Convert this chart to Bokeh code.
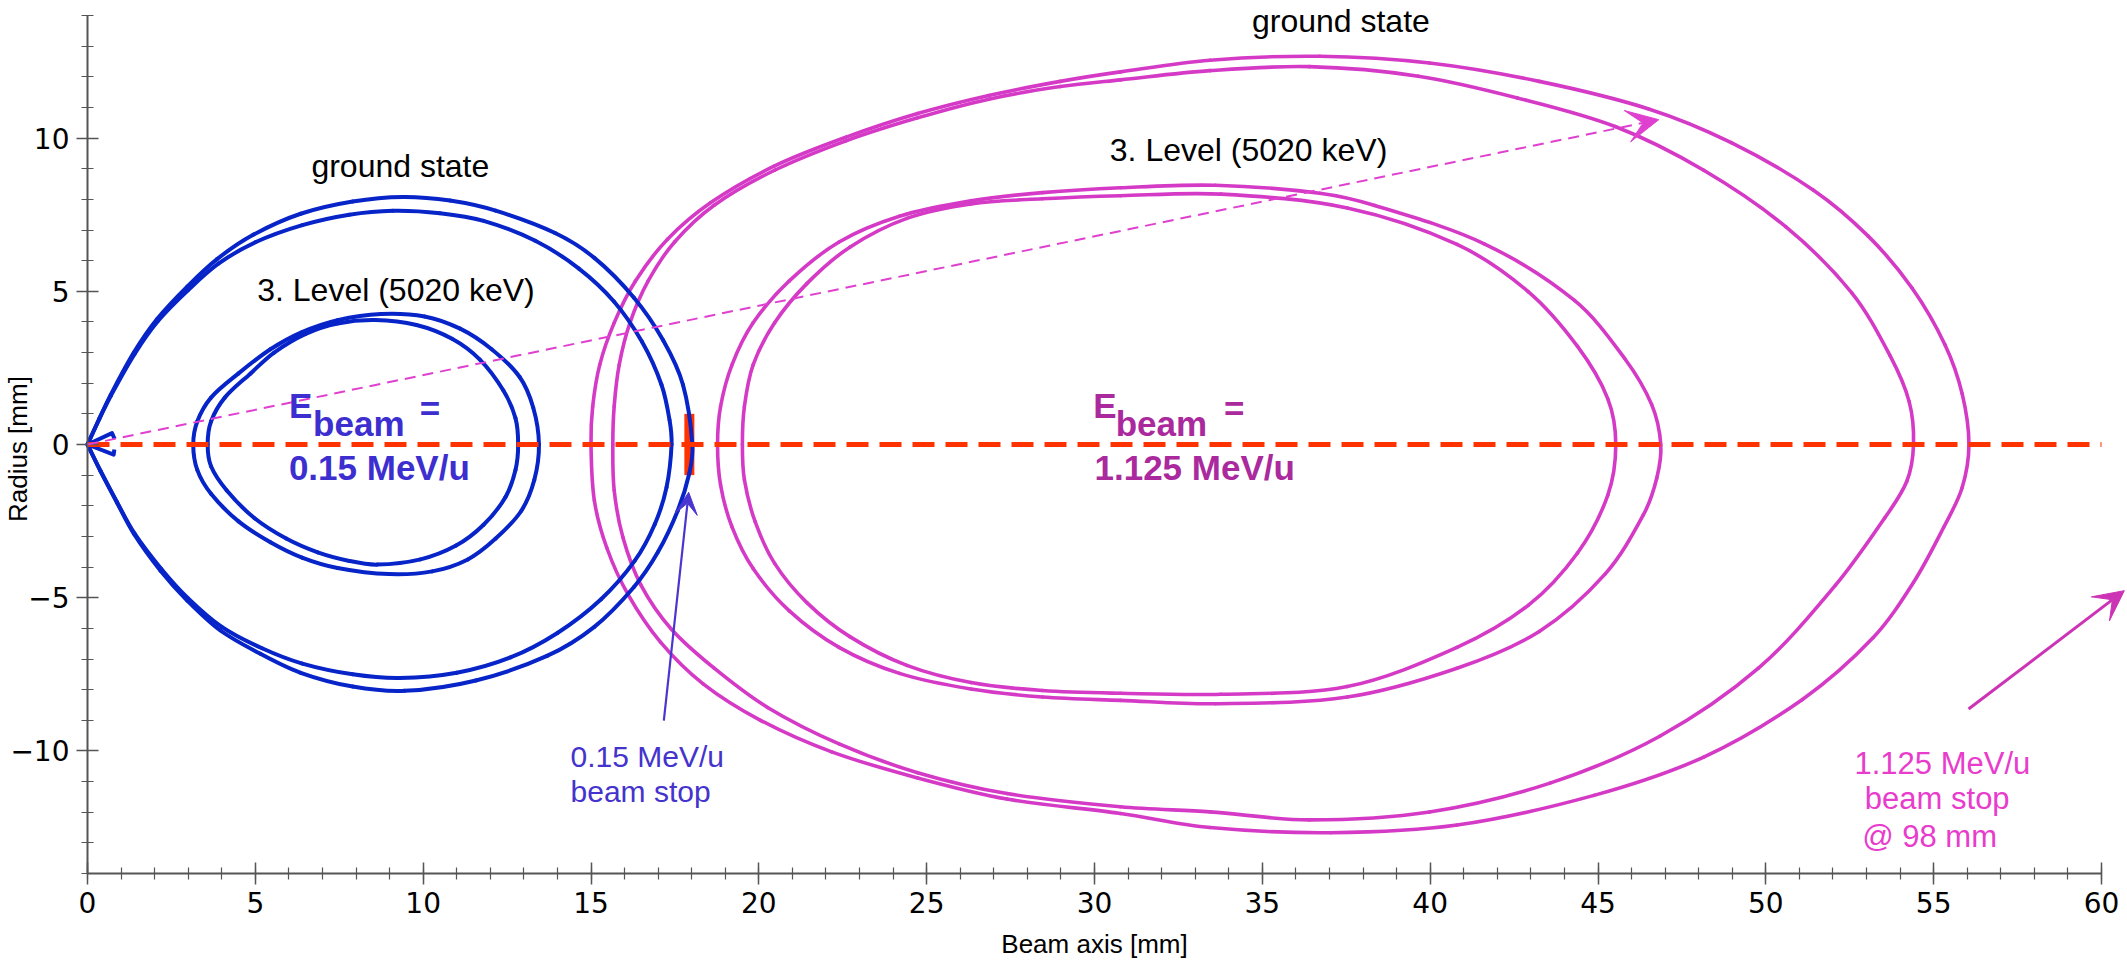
from math import pi, hypot
from bokeh.plotting import figure
from bokeh.models import Range1d, FixedTicker, Label, Arrow, VeeHead, ColumnDataSource
from bokeh.embed import file_html
from bokeh.resources import INLINE

# ---------------- data ----------------
x_ticks = [0, 5, 10, 15, 20, 25, 30, 35, 40, 45, 50, 55, 60]
y_ticks = [-10, -5, 0, 5, 10]
x_minor = list(range(0, 61))
y_minor = list(range(-14, 15))
y_tick_labels = {-10: "\u221210", -5: "\u22125"}
x_axis_span = (0, 60)
y_axis_span = (-14, 14)

# 0.15 MeV/u, ground state (two trajectories)
b_gs1_top_x = [0, 0.35, 0.69, 1.38, 2.08, 2.97, 3.86, 4.95, 6.35, 7.9, 9.4, 10.8, 12.16, 13.93, 15.1, 16.28, 17.15, 17.74, 18.02]
b_gs1_top_y = [0, 0.84, 1.62, 3.0, 4.1, 5.15, 6.05, 6.85, 7.53, 7.93, 8.08, 7.96, 7.63, 6.9, 6.09, 4.79, 3.4, 1.95, 0]
b_gs1_bot_x = [0, 0.39, 0.88, 1.38, 2.17, 2.97, 3.96, 5.15, 6.35, 7.9, 9.45, 11.57, 13.69, 15.1, 16.28, 16.99, 17.58, 17.93, 18.02]
b_gs1_bot_y = [0, -0.88, -1.9, -2.91, -4.11, -5.09, -6.07, -6.83, -7.45, -7.9, -8.04, -7.7, -6.9, -5.95, -4.65, -3.52, -2.17, -0.94, 0]
b_gs2_top_x = [0, 0.35, 0.7, 1.4, 2.1, 3.0, 3.9, 5.0, 6.4, 7.8, 9.1, 10.5, 11.8, 13.34, 14.63, 15.69, 16.52, 17.1, 17.34, 17.4]
b_gs2_top_y = [0, 0.83, 1.6, 2.95, 4.03, 5.04, 5.9, 6.6, 7.16, 7.5, 7.63, 7.55, 7.3, 6.65, 5.75, 4.66, 3.35, 1.95, 0.8, 0]
b_gs2_bot_x = [0, 0.39, 0.88, 1.4, 2.2, 3.0, 4.0, 5.2, 6.4, 7.9, 9.3, 11.0, 12.6, 14.0, 15.3, 16.3, 16.9, 17.25, 17.4]
b_gs2_bot_y = [0, -0.86, -1.88, -2.9, -4.06, -5.02, -5.95, -6.65, -7.15, -7.5, -7.62, -7.45, -6.95, -6.15, -5.05, -3.8, -2.6, -1.4, 0]

# 0.15 MeV/u, 3. Level (5020 keV)
b_l3a_top_x = [3.15, 3.27, 3.68, 4.5, 5.45, 6.39, 7.45, 8.74, 10.04, 11.1, 12.04, 12.87, 13.28, 13.45]
b_l3a_top_y = [0, 0.75, 1.53, 2.32, 3.11, 3.67, 4.06, 4.26, 4.18, 3.78, 3.11, 2.21, 1.2, 0]
b_l3a_bot_x = [3.15, 3.27, 3.68, 4.5, 5.45, 6.39, 7.45, 8.98, 10.27, 11.33, 12.16, 12.92, 13.31, 13.45]
b_l3a_bot_y = [0, -0.83, -1.61, -2.51, -3.19, -3.69, -4.03, -4.23, -4.14, -3.75, -3.07, -2.17, -1.16, 0]
b_l3b_top_x = [3.58, 3.68, 4.09, 4.86, 5.56, 6.5, 7.45, 8.57, 9.8, 10.86, 11.69, 12.39, 12.75, 12.83]
b_l3b_top_y = [0, 0.75, 1.53, 2.32, 3.0, 3.61, 3.95, 4.06, 3.9, 3.45, 2.77, 1.76, 0.86, 0]
b_l3b_bot_x = [3.58, 3.68, 4.15, 4.97, 5.92, 6.86, 7.8, 8.63, 9.92, 10.98, 11.8, 12.45, 12.75, 12.83]
b_l3b_bot_y = [0, -0.71, -1.5, -2.4, -3.07, -3.52, -3.8, -3.92, -3.75, -3.3, -2.62, -1.72, -0.83, 0]

# 1.125 MeV/u, ground state
m_gs1_top_x = [15.0, 15.05, 15.26, 15.69, 16.32, 17.28, 18.56, 20.47, 22.6, 24.73, 26.85, 28.98, 30.77, 33.44, 36.71, 39.98, 43.25, 46.51, 48.97, 51.42, 53.05, 54.36, 55.34, 55.85, 56.05]
m_gs1_top_y = [0, 1.24, 2.6, 3.97, 5.33, 6.7, 7.89, 9.09, 10.03, 10.8, 11.39, 11.85, 12.16, 12.54, 12.67, 12.45, 11.85, 10.95, 9.85, 8.3, 6.8, 5.1, 3.25, 1.65, 0]
m_gs1_bot_x = [15.0, 15.1, 15.47, 16.11, 17.07, 18.34, 20.05, 22.17, 24.73, 27.39, 30.77, 33.44, 37.04, 40.8, 44.88, 48.15, 51.09, 53.2, 54.4, 55.3, 55.85, 56.05]
m_gs1_bot_y = [0, -1.83, -3.37, -4.91, -6.45, -7.81, -9.0, -10.03, -10.88, -11.57, -12.04, -12.5, -12.67, -12.42, -11.45, -10.2, -8.32, -6.3, -4.5, -2.7, -1.4, 0]
m_gs2_top_x = [15.65, 15.69, 15.84, 16.16, 16.7, 17.49, 18.67, 20.47, 22.6, 24.73, 26.85, 28.98, 30.77, 33.44, 36.4, 39.65, 42.6, 45.53, 48.15, 50.6, 52.56, 53.7, 54.27, 54.4]
m_gs2_top_y = [0, 1.24, 2.6, 3.97, 5.33, 6.61, 7.81, 8.95, 9.91, 10.66, 11.27, 11.68, 11.9, 12.2, 12.33, 12.02, 11.31, 10.37, 8.95, 7.1, 4.95, 2.9, 1.4, 0]
m_gs2_bot_x = [15.65, 15.69, 15.95, 16.48, 17.39, 18.67, 20.26, 22.39, 24.73, 27.39, 30.77, 33.44, 36.4, 39.98, 43.57, 46.84, 49.78, 52.07, 53.54, 54.2, 54.4]
m_gs2_bot_y = [0, -1.49, -3.03, -4.57, -6.02, -7.3, -8.58, -9.77, -10.71, -11.39, -11.82, -11.99, -12.25, -11.99, -11.05, -9.52, -7.3, -4.6, -2.4, -1.2, 0]

# 1.125 MeV/u, 3. Level (5020 keV)
m_l3a_top_x = [18.77, 18.86, 19.2, 19.83, 20.9, 22.39, 24.19, 26.32, 28.45, 30.77, 33.6, 36.71, 38.35, 41.61, 44.3, 45.8, 46.6, 46.87]
m_l3a_top_y = [0, 1.24, 2.6, 3.97, 5.33, 6.61, 7.45, 7.95, 8.22, 8.38, 8.46, 8.2, 7.8, 6.55, 4.7, 2.8, 1.3, 0]
m_l3a_bot_x = [18.77, 18.86, 19.2, 19.83, 20.9, 22.39, 24.19, 26.32, 28.45, 30.77, 33.6, 37.53, 40.8, 43.25, 45.21, 46.35, 46.75, 46.87]
m_l3a_bot_y = [0, -1.32, -2.69, -4.05, -5.42, -6.62, -7.47, -7.98, -8.24, -8.35, -8.46, -8.24, -7.3, -6.1, -4.23, -2.3, -1.1, 0]
m_l3b_top_x = [19.51, 19.57, 19.83, 20.47, 21.43, 22.71, 24.41, 26.32, 28.45, 30.77, 33.77, 37.53, 40.8, 42.92, 44.39, 45.29, 45.53]
m_l3b_top_y = [0, 1.24, 2.6, 3.97, 5.25, 6.44, 7.38, 7.85, 8.02, 8.12, 8.17, 7.72, 6.53, 4.99, 3.2, 1.5, 0]
m_l3b_bot_x = [19.51, 19.57, 19.89, 20.47, 21.43, 22.71, 24.41, 26.32, 28.45, 30.77, 33.77, 37.53, 40.8, 42.92, 44.39, 45.29, 45.53]
m_l3b_bot_y = [0, -1.15, -2.52, -3.88, -5.16, -6.27, -7.21, -7.77, -8.03, -8.12, -8.15, -7.9, -6.62, -5.25, -3.54, -1.66, 0]

# small blue hook at the origin
hook_top_x = [0, 0.73, 0.81]
hook_top_y = [0, 0.37, 0.18]
hook_bot_x = [0, 0.78, 0.8]
hook_bot_y = [0, -0.33, -0.16]

# beam axis and 0.15 MeV/u beam stop
axis_x = [0, 60]
axis_y = [0, 0]
stop_x = [17.93]
stop_y0 = [-1.0]
stop_y1 = [1.0]

# ---------------- styles ----------------
BLUE = "#0724c8"
MAG = "#d53ac6"
RED = "#ff3300"
BLUE_TXT = "#3d2ed0"
MAG_BOLD = "#aa2a9e"
MAG_TXT = "#e83ccc"
LABEL_FONT = "Liberation Sans"

# frame fills the canvas, axes are pinned inside it
XS = 2014 / 60.0   # px per mm along x
YS = 858 / 28.0    # px per mm along y
p = figure(width=2127, height=960,
           x_range=Range1d(-87 / XS, 60 + 26 / XS),
           y_range=Range1d(-14 - 87 / YS, 14 + 15 / YS),
           output_backend="svg", toolbar_location=None, min_border=0)
p.outline_line_color = None
p.xgrid.visible = False
p.ygrid.visible = False
p.background_fill_color = "white"
p.border_fill_color = "white"

p.xaxis.fixed_location = y_axis_span[0]
p.yaxis.fixed_location = x_axis_span[0]
p.xaxis.bounds = x_axis_span
p.yaxis.bounds = y_axis_span
p.xaxis.ticker = FixedTicker(ticks=x_ticks, minor_ticks=x_minor)
p.yaxis.ticker = FixedTicker(ticks=y_ticks, minor_ticks=y_minor)
p.yaxis.major_label_overrides = y_tick_labels
for ax in (p.xaxis[0], p.yaxis[0]):
    ax.axis_line_color = "#555555"
    ax.axis_line_width = 2
    ax.major_tick_line_color = "#555555"
    ax.major_tick_line_width = 1.5
    ax.minor_tick_line_color = "#555555"
    ax.minor_tick_line_width = 1.2
    ax.major_tick_in = 11
    ax.major_tick_out = 11
    ax.minor_tick_in = 6
    ax.minor_tick_out = 6
    ax.major_label_text_font = "DejaVu Sans"
    ax.major_label_text_font_size = "28px"
    ax.major_label_text_color = "black"
    ax.major_label_standoff = 7

# beam stop bar (under the curves)
p.segment(x0=stop_x, y0=stop_y0, x1=stop_x, y1=stop_y1, line_color=RED, line_width=10)


def smooth(xs, ys, closed):
    """Cubic Bezier segments through the read points (chord-length Catmull-Rom tangents)."""
    n = len(xs)

    def d(a, b):
        return hypot((xs[b] - xs[a]) * XS, (ys[b] - ys[a]) * YS) or 1e-9

    tx, ty = [], []
    for i in range(n):
        if closed or 0 < i < n - 1:
            h, k = (i - 1) % n, (i + 1) % n
            den = d(h, i) + d(i, k)
            tx.append((xs[k] - xs[h]) / den)
            ty.append((ys[k] - ys[h]) / den)
        elif i == 0:
            den = d(0, 1)
            tx.append((xs[1] - xs[0]) / den)
            ty.append((ys[1] - ys[0]) / den)
        else:
            den = d(n - 2, n - 1)
            tx.append((xs[n - 1] - xs[n - 2]) / den)
            ty.append((ys[n - 1] - ys[n - 2]) / den)
    seg = dict(x0=[], y0=[], x1=[], y1=[], cx0=[], cy0=[], cx1=[], cy1=[])
    last = n if closed else n - 1
    for i in range(last):
        j = (i + 1) % n
        L = d(i, j) / 3.0
        seg["x0"].append(xs[i]); seg["y0"].append(ys[i])
        seg["x1"].append(xs[j]); seg["y1"].append(ys[j])
        seg["cx0"].append(xs[i] + tx[i] * L)
        seg["cy0"].append(ys[i] + ty[i] * L)
        seg["cx1"].append(xs[j] - tx[j] * L)
        seg["cy1"].append(ys[j] - ty[j] * L)
    return ColumnDataSource(seg)


def draw_loop(tx, ty, bx, by, color, width, cusp):
    if cusp:   # open path that starts and ends at the origin
        xs = list(tx) + list(reversed(bx))[1:]
        ys = list(ty) + list(reversed(by))[1:]
        src = smooth(xs, ys, closed=False)
    else:      # closed loop
        xs = list(tx) + list(reversed(bx))[1:-1]
        ys = list(ty) + list(reversed(by))[1:-1]
        src = smooth(xs, ys, closed=True)
    p.bezier(x0="x0", y0="y0", x1="x1", y1="y1", cx0="cx0", cy0="cy0",
             cx1="cx1", cy1="cy1", source=src, line_color=color,
             line_width=width, line_cap="round")


draw_loop(m_gs1_top_x, m_gs1_top_y, m_gs1_bot_x, m_gs1_bot_y, MAG, 3.6, False)
draw_loop(m_gs2_top_x, m_gs2_top_y, m_gs2_bot_x, m_gs2_bot_y, MAG, 3.6, False)
draw_loop(m_l3a_top_x, m_l3a_top_y, m_l3a_bot_x, m_l3a_bot_y, MAG, 3.6, False)
draw_loop(m_l3b_top_x, m_l3b_top_y, m_l3b_bot_x, m_l3b_bot_y, MAG, 3.6, False)
draw_loop(b_gs1_top_x, b_gs1_top_y, b_gs1_bot_x, b_gs1_bot_y, BLUE, 4, True)
draw_loop(b_gs2_top_x, b_gs2_top_y, b_gs2_bot_x, b_gs2_bot_y, BLUE, 4, True)
draw_loop(b_l3a_top_x, b_l3a_top_y, b_l3a_bot_x, b_l3a_bot_y, BLUE, 4, False)
draw_loop(b_l3b_top_x, b_l3b_top_y, b_l3b_bot_x, b_l3b_bot_y, BLUE, 4, False)

p.line(hook_top_x, hook_top_y, line_color=BLUE, line_width=4, line_join="round")
p.line(hook_bot_x, hook_bot_y, line_color=BLUE, line_width=4, line_join="round")

# beam axis
p.line(axis_x, axis_y, line_color=RED, line_width=5, line_dash="22 11")

# arrows
p.add_layout(Arrow(x_start=0, y_start=0, x_end=46.81, y_end=10.6,
                   line_color="#e040d0", line_width=2, line_dash="11 7",
                   end=VeeHead(size=32, fill_color="#e040d0", line_color="#e040d0", line_width=1)))
p.add_layout(Arrow(x_start=17.17, y_start=-9.01, x_end=17.91, y_end=-1.56,
                   line_color="#4a35d0", line_width=2.2,
                   end=VeeHead(size=22, fill_color="#4a35d0", line_color="#4a35d0", line_width=1)))
p.add_layout(Arrow(x_start=56.04, y_start=-8.63, x_end=60.68, y_end=-4.77,
                   line_color="#cc33b5", line_width=3,
                   end=VeeHead(size=30, fill_color="#cc33b5", line_color="#cc33b5", line_width=1)))


def lab(x, y, text, size, color, align="left", bold=False, angle=0):
    # y is the vertical middle of the text
    p.add_layout(Label(x=x, y=y, text=text, text_font=LABEL_FONT,
                       text_font_size=size, text_color=color, text_align=align,
                       text_baseline="middle", angle=angle,
                       text_font_style="bold" if bold else "normal"))


# state labels
lab(9.32, 9.10, "ground state", "32px", "black", "center")
lab(9.19, 5.04, "3. Level (5020 keV)", "32px", "black", "center")
lab(37.34, 13.82, "ground state", "32px", "black", "center")
lab(34.59, 9.60, "3. Level (5020 keV)", "32px", "black", "center")

# beam energy labels
lab(6.0, 1.26, "E", "35px", BLUE_TXT, bold=True)
lab(6.72, 0.70, "beam", "35px", BLUE_TXT, bold=True)
lab(9.9, 1.17, "=", "35px", BLUE_TXT, bold=True)
lab(6.0, -0.76, "0.15 MeV/u", "35px", BLUE_TXT, bold=True)

lab(29.96, 1.26, "E", "35px", MAG_BOLD, bold=True)
lab(30.63, 0.70, "beam", "35px", MAG_BOLD, bold=True)
lab(33.86, 1.17, "=", "35px", MAG_BOLD, bold=True)
lab(30.0, -0.76, "1.125 MeV/u", "35px", MAG_BOLD, bold=True)

# beam stop annotations
lab(14.39, -10.19, "0.15 MeV/u", "30px", "#4433cc")
lab(14.39, -11.34, "beam stop", "30px", "#4433cc")
lab(52.64, -10.40, "1.125 MeV/u", "31px", MAG_TXT)
lab(52.95, -11.55, "beam stop", "31px", MAG_TXT)
lab(52.87, -12.78, "@ 98 mm", "31px", MAG_TXT)

# axis titles
lab(30.0, -16.3, "Beam axis [mm]", "26px", "black", "center")
lab(-2.08, -0.15, "Radius [mm]", "26px", "black", "center", angle=pi / 2)

open("out.html", "w").write(file_html(p, INLINE))
